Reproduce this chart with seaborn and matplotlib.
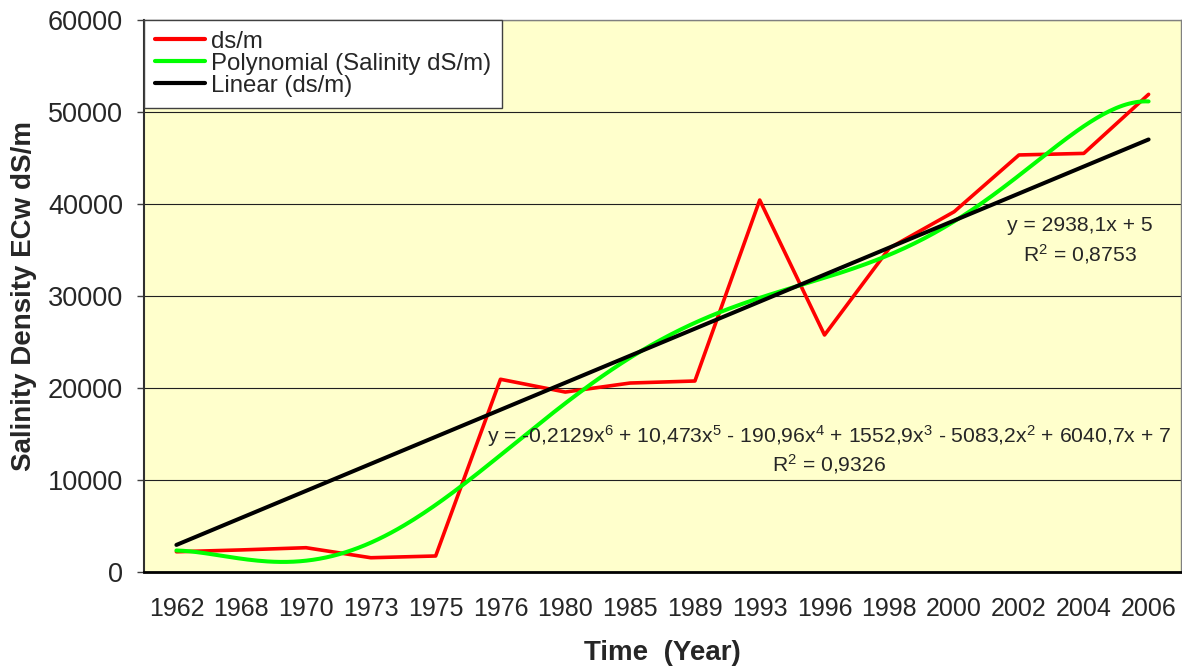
import matplotlib
matplotlib.use("Agg")
import matplotlib.pyplot as plt
import seaborn as sns
import pandas as pd
import numpy as np

# data
years = ["1962", "1968", "1970", "1973", "1975", "1976", "1980", "1985",
         "1989", "1993", "1996", "1998", "2000", "2002", "2004", "2006"]
salinity = [2200, 2400, 2640, 1550, 1740, 20950, 19560, 20540,
            20760, 40430, 25760, 35200, 39160, 45330, 45500, 51920]

# trendline coefficients as printed on the chart (x = 1..16)
poly_coef = [-0.2129, 10.473, -190.96, 1552.9, -5083.2, 6040.7, 7]
lin_coef = [2938.1, 5]

sns.set_style("white")
plt.rcParams["font.family"] = ["Liberation Sans", "DejaVu Sans"]
plt.rcParams["mathtext.default"] = "regular"

df = pd.DataFrame({"x": np.arange(1, len(years) + 1), "ds/m": salinity})
x_fit = np.linspace(1, len(years), 300)
poly_df = pd.DataFrame({"x": x_fit, "y": np.polyval(poly_coef, x_fit)})
lin_df = pd.DataFrame({"x": x_fit, "y": np.polyval(lin_coef, x_fit)})

fig = plt.figure(figsize=(11.82, 6.66), dpi=100)
ax = fig.add_axes([144 / 1182, 94 / 666, 1037 / 1182, 552 / 666])
ax.set_facecolor("#FFFFCC")

sns.lineplot(data=df, x="x", y="ds/m", color="#FF0000", lw=2.6, ax=ax, label="ds/m")
sns.lineplot(data=poly_df, x="x", y="y", color="#00FF00", lw=2.9, ax=ax,
             label="Polynomial (Salinity dS/m)")
sns.lineplot(data=lin_df, x="x", y="y", color="#000000", lw=2.9, ax=ax,
             label="Linear (ds/m)")

ax.set_xlim(0.5, len(years) + 0.5)
ax.set_ylim(0, 60000)
ax.set_yticks(range(0, 60001, 10000))
ax.set_yticklabels([str(v) for v in range(0, 60001, 10000)], fontsize=19.5)
ax.set_xticks(df["x"])
ax.set_xticklabels(years, fontsize=18)
ax.set_xticks(np.arange(0.5, len(years) + 1), minor=True)
ax.tick_params(axis="x", which="major", length=0, pad=18)
ax.tick_params(axis="x", which="minor", length=5, width=1, color="#404040", direction="out")
ax.tick_params(axis="y", length=5, width=1, color="#404040", direction="out", pad=10, left=True)

ax.grid(axis="y", color="#202020", lw=0.8)
ax.set_axisbelow(True)

for s in ["top", "right"]:
    ax.spines[s].set_color("#808080")
    ax.spines[s].set_linewidth(1)
ax.spines["left"].set_color("#303030")
ax.spines["left"].set_linewidth(1.5)
ax.spines["bottom"].set_color("#000000")
ax.spines["bottom"].set_linewidth(2)

ax.set_xlabel("Time  (Year)", fontsize=20, fontweight="bold", labelpad=14)
ax.set_ylabel("Salinity Density ECw dS/m", fontsize=20, fontweight="bold", labelpad=8)

# trendline equations
ax.text(11.07, 14783,
        "y = -0,2129x$^6$ + 10,473x$^5$ - 190,96x$^4$ + 1552,9x$^3$ - 5083,2x$^2$ + 6040,7x + 7",
        fontsize=15.2, ha="center", va="center")
ax.text(11.07, 11739, "R$^2$ = 0,9326", fontsize=15.2, ha="center", va="center")
ax.text(14.94, 37609, "y = 2938,1x + 5", fontsize=15.2, ha="center", va="center")
ax.text(14.94, 34565, "R$^2$ = 0,8753", fontsize=15.2, ha="center", va="center")

leg = ax.legend(loc="upper left", bbox_to_anchor=(0, 1), borderaxespad=0,
                fontsize=17.3, frameon=True, fancybox=False, framealpha=1,
                edgecolor="#404040", handlelength=2.1, handletextpad=0.25,
                labelspacing=0.0, borderpad=0.45)
leg.get_frame().set_linewidth(1)
for line in leg.get_lines():
    line.set_linewidth(3)

fig.savefig("out.png", dpi=100)
